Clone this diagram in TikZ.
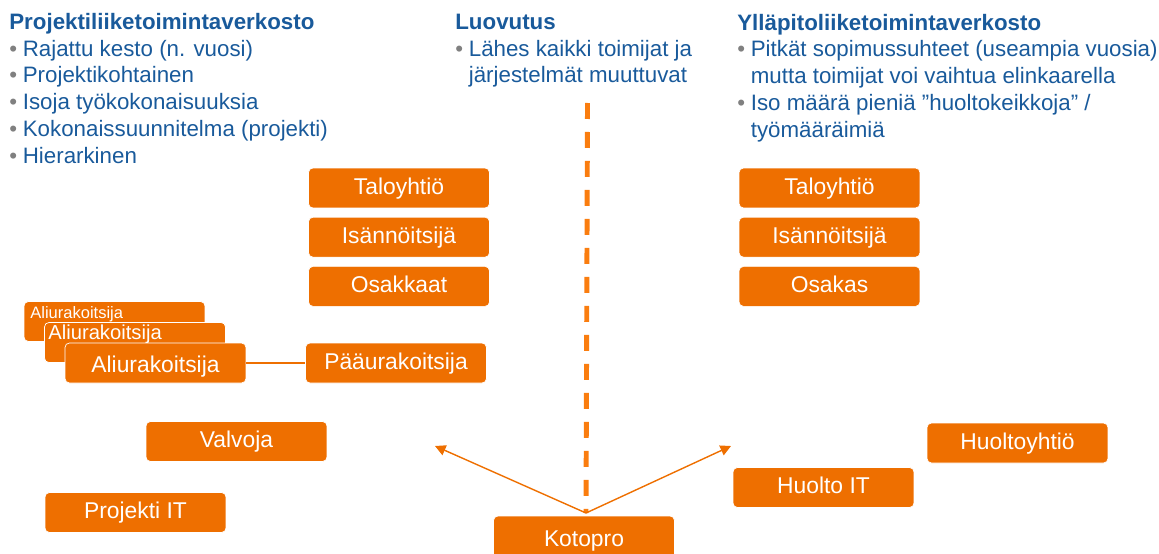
\documentclass[tikz,border=0pt]{standalone}
\usepackage{fontspec}
\setmainfont{Liberation Sans}
\usetikzlibrary{positioning, arrows.meta}
\definecolor{kotoorange}{RGB}{238,111,0}
\definecolor{dashorange}{RGB}{250,125,15}
\definecolor{kotoblue}{RGB}{25,90,155}
\definecolor{bulletgray}{RGB}{128,128,128}
\newcommand{\bul}{\makebox[0.27cm][l]{\textcolor{bulletgray}{\textbullet}}}
\newcommand{\ind}{\hspace*{0.27cm}}

\begin{document}
\begin{tikzpicture}[x=0.02cm, y=-0.02cm,
        box/.style={rectangle, rounded corners=2.5pt, fill=kotoorange, draw=white, line width=0.4pt, text=white, minimum width=3.62cm, minimum height=0.8cm, inner sep=0pt, text height=8.5pt, text depth=1.5pt, font=\fontsize{13}{15}\selectfont},
        infotext/.style={anchor=base west, align=left, inner sep=0pt, text=kotoblue, font=\fontsize{12.7}{15.2}\selectfont},
        smalltext/.style={anchor=base west, inner sep=0pt, text=white},
        link/.style={kotoorange, line width=0.8pt}
    ]
    \useasboundingbox (0,0) rectangle (1159,554);
    \node (Projekti) [infotext] at (9,163) {\textbf{Projektiliiketoimintaverkosto}\\
        \bul Rajattu kesto (n. vuosi)\\
        \bul Projektikohtainen\\
        \bul Isoja työkokonaisuuksia\\
        \bul Kokonaissuunnitelma (projekti)\\
        \bul Hierarkinen};
    \node (Luovutus) [infotext] at (455,83) {\textbf{Luovutus}\\
        \bul Lähes kaikki toimijat ja\\
        \ind järjestelmät muuttuvat};
    \node (Yllapito) [infotext] at (737,137) {\textbf{Ylläpitoliiketoimintaverkosto}\\
        \bul Pitkät sopimussuhteet (useampia vuosia)\\
        \ind mutta toimijat voi vaihtua elinkaarella\\
        \bul Iso määrä pieniä ”huoltokeikkoja” /\\
        \ind työmääräimiä};

    \node (Taloyhtio1) [box] at (399,188) {Taloyhtiö};
    \node (Isannoitsija1) [box, below=0.17cm of Taloyhtio1] {Isännöitsijä};
    \node (Osakkaat) [box, below=0.17cm of Isannoitsija1] {Osakkaat};
    \node (Paaurakoitsija) [box] at (396,363) {Pääurakoitsija};

    \node (Ali3) [box] at (114.5,321.5) {};
    \node (Ali3Nimi) [smalltext, font=\fontsize{9.4}{11}\selectfont] at (30,318) {Aliurakoitsija};
    \node (Ali2) [box] at (135,342.5) {};
    \node (Ali2Nimi) [smalltext, font=\fontsize{11.5}{13}\selectfont] at (48,339) {Aliurakoitsija};
    \node (Ali1) [box, text height=10.5pt, text depth=0pt] at (155.5,363) {Aliurakoitsija};
    \draw [link] (Ali1) -- (Paaurakoitsija);

    \node (Valvoja) [box] at (236.5,441.5) {Valvoja};
    \node (ProjektiIT) [box] at (135.5,512.5) {Projekti IT};
    \node (Kotopro) [box, minimum height=0.96cm] at (584,540) {Kotopro};

    \node (Taloyhtio2) [box] at (829.5,188) {Taloyhtiö};
    \node (Isannoitsija2) [box, below=0.17cm of Taloyhtio2] {Isännöitsijä};
    \node (Osakas) [box, below=0.17cm of Isannoitsija2] {Osakas};
    \node (Huoltoyhtio) [box] at (1017.5,443) {Huoltoyhtiö};
    \node (HuoltoIT) [box] at (823.5,487.5) {Huolto IT};

    \coordinate (Raja) at (587.5,103);
    \coordinate (Kanta) at (586,513);
    \coordinate (VasenKarki) at (435,446);
    \coordinate (OikeaKarki) at (731,446);
    \draw [dashorange, line width=2.8pt, dash pattern=on 0.32cm off 0.26cm] (Raja) -- (Kanta);
    \draw [link, -{Triangle[length=6pt, width=6pt]}] (Kanta) -- (VasenKarki);
    \draw [link, -{Triangle[length=6pt, width=6pt]}] (Kanta) -- (OikeaKarki);
\end{tikzpicture}
\end{document}
